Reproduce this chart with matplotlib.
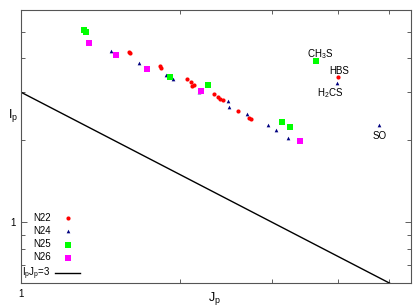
import matplotlib
matplotlib.use('Agg')
import matplotlib.pyplot as plt
import matplotlib.ticker as mtick
import numpy as np

plt.rcParams['font.family'] = ['Liberation Sans', 'DejaVu Sans']
plt.rcParams['mathtext.fontset'] = 'custom'
plt.rcParams['mathtext.rm'] = 'Liberation Sans'
plt.rcParams['mathtext.it'] = 'Liberation Sans'

# values (Jp, Ip)
n22_j = [1.606, 1.613, 1.832, 1.840, 2.062, 2.099, 2.127, 2.108, 2.322, 2.363,
         2.384, 2.415, 2.579, 2.707, 2.731, 4.00]
n22_i = [4.195, 4.16, 3.727, 3.665, 3.341, 3.258, 3.177, 3.150, 2.943, 2.870,
         2.822, 2.799, 2.551, 2.404, 2.384, 3.398]
n24_j = [1.484, 1.678, 1.881, 1.940, 2.174, 2.469, 2.480, 2.683, 2.942, 3.047,
         3.212, 3.981, 4.786]
n24_i = [4.231, 3.823, 3.455, 3.341, 2.994, 2.775, 2.638, 2.486, 2.266, 2.173,
         2.031, 3.23, 2.266]
n25_j = [1.318, 1.330, 1.914, 2.262, 3.127, 3.240, 3.631]
n25_i = [5.05, 4.966, 3.398, 3.177, 2.324, 2.228, 3.889]
n26_j = [1.348, 1.517, 1.738, 2.193, 3.385]
n26_i = [4.525, 4.09, 3.635, 3.019, 1.981]

# labelled molecules: name, Jp, Ip (text position)
mol_names = [r'CH$_3$S', 'HBS', r'H$_2$CS', 'SO']
mol_j = [3.69, 4.01, 3.86, 4.80]
mol_i = [4.12, 3.58, 2.98, 2.08]

line_prod = 3.0

fig = plt.figure(figsize=(4.19, 3.06), dpi=100)
ax = fig.add_axes([0.0501, 0.0752, 0.931, 0.892])

ax.scatter(n22_j, n22_i, s=9, marker='o', color='#ff0000', linewidths=0, label='N22', zorder=3)
ax.scatter(n24_j, n24_i, s=7, marker='^', color='#000080', linewidths=0, label='N24', zorder=3)
ax.scatter(n25_j, n25_i, s=14, marker='s', color='#00ff00', linewidths=0, label='N25', zorder=3)
ax.scatter(n26_j, n26_i, s=14, marker='s', color='#ff00ff', linewidths=0, label='N26', zorder=3)

jj = np.array([1.0, 5.5])
ax.plot(jj, line_prod / jj, color='black', lw=1, label=r'I$_p$J$_p$=3')

for name, xj, yi in zip(mol_names, mol_j, mol_i):
    ax.text(xj, yi, name, fontsize=7, ha='center', va='center')

ax.set_xscale('log')
ax.set_yscale('log')
ax.set_xlim(1, 5.5)
ax.set_ylim(0.6, 6)

ax.xaxis.set_major_locator(mtick.FixedLocator([1]))
ax.xaxis.set_minor_locator(mtick.FixedLocator([2, 3, 4, 5]))
ax.yaxis.set_major_locator(mtick.FixedLocator([1]))
ax.yaxis.set_minor_locator(mtick.FixedLocator([0.7, 0.8, 0.9, 2, 3, 4, 5]))
ax.xaxis.set_major_formatter(mtick.FixedFormatter(['1']))
ax.yaxis.set_major_formatter(mtick.FixedFormatter(['1']))
ax.xaxis.set_minor_formatter(mtick.NullFormatter())
ax.yaxis.set_minor_formatter(mtick.NullFormatter())
ax.tick_params(which='both', direction='in', top=True, right=True, labelsize=7,
               color='#444444', width=0.6)
ax.tick_params(which='major', length=4, pad=4)
ax.tick_params(which='minor', length=3)
for sp in ax.spines.values():
    sp.set_color('#555555')
    sp.set_linewidth(0.8)

ax.set_xlabel(r'J$_p$', fontsize=9, va='top')
ax.set_ylabel(r'I$_p$', fontsize=9, rotation=0, va='center')
ax.yaxis.set_label_coords(-0.02, 0.612)
ax.xaxis.set_label_coords(0.495, -0.026)

leg = ax.legend(loc='lower left', frameon=False, markerfirst=False, fontsize=7,
                handlelength=2.5, handletextpad=0.5, labelspacing=0.33,
                borderaxespad=0.0, borderpad=0.1)

fig.savefig('out.png', dpi=100)
